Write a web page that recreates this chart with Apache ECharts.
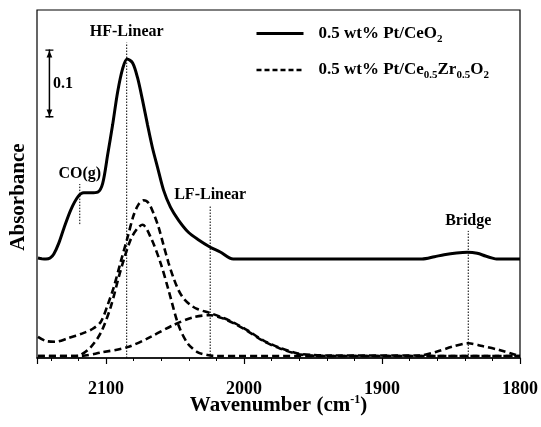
<!DOCTYPE html>
<html><head><meta charset="utf-8">
<script src="https://cdn.jsdelivr.net/npm/echarts@6/dist/echarts.min.js"></script>
<style>html,body{margin:0;padding:0;background:#fff}#c{width:541px;height:427px}</style>
</head><body><div id="c"></div>
<script>
// ---- data (wavenumber cm-1, absorbance a.u.) ----
const xTickLabels = [2100, 2000, 1900, 1800];
const seriesNames = ['0.5 wt% Pt/CeO2', '0.5 wt% Pt/Ce0.5Zr0.5O2'];

const ptCeO2 = [
  [2149.3,0.147],[2146.5,0.146],[2143.5,0.1455],[2140.5,0.147],[2137.8,0.153],[2134.2,0.169],[2130.5,0.191],
  [2125.5,0.218],[2120.4,0.237],[2116.1,0.243],[2111.0,0.243],[2106.0,0.244],[2102.4,0.257],
  [2098.8,0.299],[2095.2,0.343],[2091.6,0.391],[2087.9,0.426],[2084.7,0.440],[2080.7,0.434],
  [2077.1,0.412],[2073.5,0.379],[2069.9,0.343],[2066.3,0.309],[2062.7,0.281],[2058.3,0.247],
  [2053.3,0.222],[2047.5,0.203],[2040.3,0.185],[2033.1,0.174],[2024.4,0.163],[2017.2,0.156],
  [2007.8,0.1456],[1950,0.1456],[1871,0.1456],[1862,0.149],[1855,0.152],[1846,0.1545],
  [1838,0.1555],[1831,0.154],[1825,0.150],[1820,0.147],[1817,0.1456],[1800,0.1456]
];
const ptCeZrTotal = [
  [2149.3,0.031],[2143.5,0.025],[2136.3,0.024],[2127.7,0.029],[2116.1,0.037],[2109.6,0.043],
  [2103.8,0.053],[2098.8,0.078],[2094.4,0.104],[2089.4,0.141],[2084.3,0.178],[2080.0,0.210],
  [2076.4,0.226],[2072.8,0.232],[2069.2,0.228],[2065.6,0.213],[2062.0,0.193],[2058.3,0.166],
  [2054.7,0.140],[2051.1,0.118],[2047.5,0.100],[2043.9,0.088],[2038.8,0.078],[2033.8,0.072],
  [2024.4,0.066],[2015.0,0.059],[2006.4,0.051],[1997.7,0.041],[1986.1,0.026],[1973.9,0.015],
  [1961.6,0.007],[1950.1,0.0044],[1937.8,0.0037],[1872.8,0.0037],[1860.5,0.0093],[1849.0,0.0166],
  [1837.4,0.0216],[1827.3,0.0176],[1815.0,0.0118],[1802.7,0.0044],[1800.5,0.003]
];
const ptCeZrHF = [
  [2149.3,0.003],[2121.9,0.003],[2118.3,0.0044],[2111.0,0.016],[2103.8,0.037],[2096.6,0.075],
  [2089.4,0.129],[2082.2,0.174],[2077.1,0.191],[2073.5,0.196],[2067.7,0.178],[2060.5,0.140],
  [2054.7,0.100],[2047.5,0.0485],[2041.0,0.022],[2033.8,0.0088],[2026.6,0.0044],[2020.8,0.003],
  [1800,0.003]
];
const ptCeZrLF = [
  [2149.3,0.003],[2118.3,0.003],[2103.8,0.008],[2084.3,0.016],[2067.7,0.031],[2051.1,0.0485],
  [2036.6,0.060],[2024.4,0.063],[2015.0,0.058],[2006.4,0.050],[1997.7,0.040],[1986.1,0.025],
  [1973.9,0.014],[1961.6,0.006],[1950.1,0.0035],[1937.8,0.003],[1800,0.003]
];

const annoNames  = ['HF-Linear', 'CO(g)', 'LF-Linear', 'Bridge'];
const annoWave   = [2085, 2119, 2024.5, 1837.5];
const annoTop    = [0.464, 0.256, 0.224, 0.187];
const annoBottom = [0, 0.197, 0, 0];

const scaleBarWave = 2141;
const scaleBarFrom = 0.354;
const scaleBarTo = 0.454;
const scaleBarLabel = '0.1';

// ---- chart ----
const FONT = 'Liberation Serif';
const chart = echarts.init(document.getElementById('c'), null, {renderer: 'canvas'});

const legendRich = {
  '0.5 wt% Pt/CeO2': '{m|0.5 wt% Pt/CeO}{s|2}',
  '0.5 wt% Pt/Ce0.5Zr0.5O2': '{m|0.5 wt% Pt/Ce}{s|0.5}{m|Zr}{s|0.5}{m|O}{s|2}'
};

const capPath = 'path://M0,0 L10,0 L10,1.6 L0,1.6 Z M5,1.6 L8.6,9 L1.4,9 Z';

const series = [
  {
    name: seriesNames[0], type: 'line', data: ptCeO2, smooth: 0.3, symbol: 'none',
    lineStyle: {color: '#000', width: 3}, itemStyle: {color: '#000'}, z: 5
  },
  {
    name: seriesNames[1], type: 'line', data: ptCeZrTotal, smooth: 0.3, symbol: 'none',
    lineStyle: {color: '#000', width: 2.6, type: [7, 4]}, itemStyle: {color: '#000'}, z: 5
  },
  {
    name: 'HF component', type: 'line', data: ptCeZrHF, smooth: 0.3, symbol: 'none',
    lineStyle: {color: '#000', width: 2.6, type: [7, 4]}, z: 4
  },
  {
    name: 'LF component', type: 'line', data: ptCeZrLF, smooth: 0.3, symbol: 'none',
    lineStyle: {color: '#000', width: 2.6, type: [7, 4]}, z: 4
  }
];

annoNames.forEach((nm, i) => {
  series.push({
    name: 'anno' + i, type: 'line', symbol: 'circle', symbolSize: 1,
    itemStyle: {color: 'rgba(0,0,0,0)'},
    lineStyle: {color: '#000', width: 1, type: [1.5, 1.5]},
    data: [
      [annoWave[i], annoBottom[i]],
      {value: [annoWave[i], annoTop[i]],
       label: {show: true, position: 'top', distance: 2, formatter: nm,
               color: '#000', fontFamily: FONT, fontWeight: 'bold', fontSize: 16}}
    ],
    z: 3, silent: true
  });
});

series.push({
  name: 'scalebar', type: 'line', lineStyle: {color: '#000', width: 1.5},
  itemStyle: {color: '#000'},
  data: [
    {value: [scaleBarWave, scaleBarTo], symbol: capPath, symbolSize: [8, 8], symbolRotate: 0, symbolOffset: [0, 4]},
    {value: [scaleBarWave, (scaleBarFrom + scaleBarTo) / 2], symbol: 'circle', symbolSize: 1,
     itemStyle: {color: 'rgba(0,0,0,0)'},
     label: {show: true, position: 'right', distance: 3, formatter: scaleBarLabel,
             color: '#000', fontFamily: FONT, fontWeight: 'bold', fontSize: 16}},
    {value: [scaleBarWave, scaleBarFrom], symbol: capPath, symbolSize: [8, 8], symbolRotate: 180, symbolOffset: [0, -4]}
  ],
  z: 6, silent: true
});

const axisCommon = {
  type: 'value', min: 1800, max: 2150, inverse: true, position: 'bottom'
};

chart.setOption({
  animation: false,
  backgroundColor: '#fff',
  grid: {left: 37, top: 10, right: 21, bottom: 69, show: true, borderColor: '#000', borderWidth: 1.2, backgroundColor: 'transparent'},
  legend: {
    data: [
      {name: seriesNames[0], lineStyle: {width: 3}},
      {name: seriesNames[1], lineStyle: {type: [5, 3], width: 2.6}}
    ],
    orient: 'vertical', left: 255, top: 25, padding: 0,
    itemWidth: 47, itemHeight: 14, itemGap: 17,
    itemStyle: {opacity: 0, color: 'rgba(0,0,0,0)', borderWidth: 0},
    formatter: n => legendRich[n] || n,
    textStyle: {
      padding: [0, 0, 0, 10],
      rich: {
        m: {fontFamily: FONT, fontWeight: 'bold', fontSize: 17, color: '#000', lineHeight: 22},
        s: {fontFamily: FONT, fontWeight: 'bold', fontSize: 11, color: '#000', lineHeight: 10, verticalAlign: 'bottom'}
      }
    }
  },
  xAxis: [
    Object.assign({}, axisCommon, {
      interval: 20,
      name: '{m|Wavenumber (cm}{p|-1}{m|)}', nameLocation: 'middle', nameGap: 36,
      nameTextStyle: {
        rich: {
          m: {fontFamily: FONT, fontWeight: 'bold', fontSize: 21, color: '#000', lineHeight: 24},
          p: {fontFamily: FONT, fontWeight: 'bold', fontSize: 12, color: '#000', lineHeight: 10, verticalAlign: 'top'}
        }
      },
      axisLine: {show: true, lineStyle: {color: '#000', width: 1.5}},
      axisTick: {show: true, inside: false, length: 3, lineStyle: {color: '#000', width: 1}},
      axisLabel: {show: false},
      splitLine: {show: false}
    }),
    Object.assign({}, axisCommon, {
      interval: 100,
      axisLine: {show: false},
      axisTick: {show: true, inside: false, length: 6, lineStyle: {color: '#000', width: 1.2}},
      axisLabel: {
        show: true, interval: 0, margin: 22,
        formatter: v => (xTickLabels.indexOf(v) >= 0 ? String(v) : ''),
        fontFamily: FONT, fontWeight: 'bold', fontSize: 18, color: '#000'
      },
      splitLine: {show: false}
    })
  ],
  yAxis: {
    type: 'value', min: 0, max: 0.512,
    name: 'Absorbance', nameLocation: 'middle', nameGap: 8,
    nameTextStyle: {fontFamily: FONT, fontWeight: 'bold', fontSize: 21, color: '#000', padding: [0, 26, 0, 0]},
    axisLine: {show: false}, axisTick: {show: false}, axisLabel: {show: false}, splitLine: {show: false}
  },
  series: series
});
</script>
</body></html>
